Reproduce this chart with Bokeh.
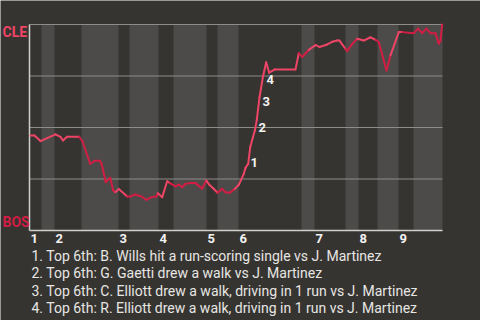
from bokeh.plotting import figure
from bokeh.models import Range1d, ColumnDataSource
from bokeh.embed import file_html
from bokeh.resources import INLINE
from bokeh.core.properties import value

# play sequence position and CLE win probability (%)
play_x = [1, 5, 11, 26, 31, 33.5, 37.5, 49.7, 53, 60.7, 65.3, 70.3, 72, 76.3, 80.7, 83.7,
          85.7, 89.3, 97.7, 101, 105.7, 112, 117, 122, 127, 128.3, 132.7, 137.7, 140.5,
          146, 149.3, 152.7, 156, 161, 166, 171, 172.7, 176.7, 180, 183.7, 188, 192.7,
          196, 200.3, 205.3, 209.3, 214.3, 216, 218.7, 220.7, 223.3, 225.3, 227.3, 230,
          233.5, 236.7, 239.7, 245.3, 266, 269.3, 272.7, 279.3, 286, 290, 297.7, 302.7,
          307.7, 310, 316, 317.7, 322, 327.7, 334.3, 341, 346, 349.3, 357, 361, 369.3,
          372.7, 384.3, 388.7, 392.7, 396.7, 401, 406, 409.3, 411, 412.7]
cle_wp = [46.1, 46.1, 43.4, 46.7, 45.4, 43.7, 45.5, 45.5, 43.2, 32.4, 33.8, 33.8, 32.5, 23.4,
          25.6, 19.4, 18.6, 20.2, 16.5, 16.5, 17.5, 16.5, 14.9, 16.2, 16.5, 18.1, 16.2,
          23.9, 23.0, 21.4, 22.3, 21.0, 22.7, 23.0, 23.0, 21.0, 20.3, 24.3, 22.1, 20.5,
          18.3, 20.2, 18.6, 18.3, 20.2, 22.2, 27.5, 30.4, 32.4, 40.4, 45.0, 48.5, 53.7,
          64.7, 74.8, 81.7, 76.6, 78.2, 78.2, 86.1, 84.2, 87.7, 90.0, 89.1, 90.3, 91.6,
          92.2, 92.2, 88.2, 87.1, 90.1, 93.1, 92.2, 93.8, 92.6, 91.4, 77.7, 85.0, 96.3,
          96.3, 95.8, 98.0, 95.8, 98.0, 95.8, 95.8, 90.7, 92.2, 100.0]

# half-inning boundaries (top 1, bottom 1, top 2, ...)
half_bounds = [0, 12, 25, 52, 89, 100, 129, 144, 177, 188, 209, 272, 285, 316, 329, 348,
               369, 384, 413]
inning_labels = ["1", "2", "3", "4", "5", "6", "7", "8", "9"]
grid_wp = [25, 50, 75, 100]

event_ids = ["1", "2", "3", "4"]
event_x = [221, 229, 233, 237]
event_wp = [33.0, 50.0, 62.6, 73.3]
notes = [
    "1. Top 6th: B. Wills hit a run-scoring single vs J. Martinez",
    "2. Top 6th: G. Gaetti drew a walk vs J. Martinez",
    "3. Top 6th: C. Elliott drew a walk, driving in 1 run vs J. Martinez",
    "4. Top 6th: R. Elliott drew a walk, driving in 1 run vs J. Martinez",
]
team_top = "CLE"
team_bottom = "BOS"

BG = "#363430"
BAND = "#4c4b49"
PINK = "#ee4566"
CRIMSON = "#d21d44"
GRID = "#8e8d8a"
AXIS = "#cfcfcc"
TEXT = "#e6e6e4"
FONT = "Roboto"

# layout: plot area 413 x 206 px, placed at (29, 24) in a 480 x 320 canvas
W_PX, H_PX = 480, 320
LEFT, TOP, AREA_W, AREA_H = 29, 24, 413, 206
XMAX = half_bounds[-1]
UX = XMAX / AREA_W
UY = 100 / AREA_H


def row(r):
    """data y for a canvas pixel row"""
    return 100 - (r - TOP) * UY


p = figure(width=W_PX, height=H_PX,
           x_range=Range1d(-LEFT * UX, (W_PX - LEFT) * UX),
           y_range=Range1d(row(H_PX), row(0)),
           output_backend="svg", toolbar_location=None,
           min_border=0, background_fill_color=BG, border_fill_color=BG,
           outline_line_color=None)
p.axis.visible = False
p.grid.visible = False

# bottom-half bands
p.quad(left=half_bounds[1:-1:2], right=half_bounds[2::2], bottom=0, top=100,
       fill_color=BAND, line_color=None)

# horizontal grid lines
p.segment(x0=[0] * len(grid_wp), x1=[XMAX] * len(grid_wp), y0=grid_wp, y1=grid_wp,
          line_color=GRID, line_width=1)
# axis lines
p.segment(x0=[0, 0], y0=[0, 0], x1=[0, XMAX], y1=[100, 0], line_color=AXIS, line_width=1.5)

# line segments coloured by half-inning
x0, y0, x1, y1, cols = [], [], [], [], []
for i in range(1, len(play_x)):
    xe = play_x[i]
    half = 0
    for k in range(len(half_bounds) - 1):
        if half_bounds[k] < xe <= half_bounds[k + 1]:
            half = k
    x0.append(play_x[i - 1]); y0.append(cle_wp[i - 1])
    x1.append(xe); y1.append(cle_wp[i])
    cols.append(PINK if half % 2 == 0 else CRIMSON)
p.segment(x0=x0, y0=y0, x1=x1, y1=y1, line_color=cols, line_width=2, line_cap="round")

# event markers
src = ColumnDataSource(dict(x=event_x, y=event_wp, t=event_ids))
p.text(x="x", y="y", text="t", source=src, text_align="left", text_baseline="middle",
       text_color="#f2f2f2", text_font=value(FONT), text_font_style="bold",
       text_font_size="13px")

# team labels
p.text(x=[-27 * UX, -27 * UX], y=[row(31), row(221)], text=[team_top, team_bottom],
       text_color=[PINK, CRIMSON], text_font=value(FONT), text_font_style="bold",
       text_font_size="14px", text_baseline="middle", text_align="left")

# inning labels
starts = half_bounds[0:-1:2]
p.text(x=[s + 1 * UX for s in starts], y=[row(238)] * len(starts), text=inning_labels,
       text_color="#f2f2f2", text_font=value(FONT), text_font_style="bold",
       text_font_size="13px", text_baseline="middle", text_align="left")

# notes
p.text(x=[2 * UX] * len(notes), y=[row(255 + 17.6 * k) for k in range(len(notes))],
       text=notes, text_color=TEXT, text_font=value(FONT), text_font_size="14px",
       text_baseline="middle", text_align="left")

open("out.html", "w").write(file_html(p, INLINE))
